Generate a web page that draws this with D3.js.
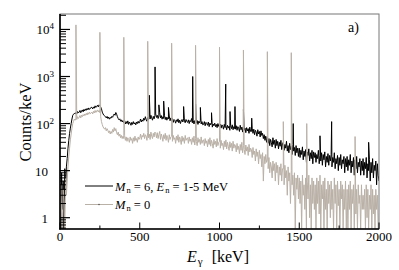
<!DOCTYPE html>
<html>
<head>
<meta charset="utf-8">
<script src="https://cdn.jsdelivr.net/npm/d3@7"></script>
<style>
body { margin: 0; background: #fff; }
</style>
</head>
<body>
<div id="chart"></div>
<script>
// spectra: counts/keV sampled every 5 keV from 0 to 2000 keV
var energyStep = 5;

var countsMn6 = [
	3, 0.3, 9, 1.5, 6, 0.3, 11, 4, 12, 18, 30, 44, 62, 80, 100, 125, 150, 158, 165, 160,
	172, 160, 180, 168, 176, 190, 170, 185, 195, 178, 200, 186, 205, 192, 210, 196, 215, 200, 208, 222,
	220, 205, 226, 212, 238, 220, 232, 245, 226, 250, 240, 225, 205, 175, 160, 150, 146, 140, 132, 142,
	128, 138, 124, 134, 130, 142, 136, 150, 160, 150, 172, 158, 140, 128, 120, 126, 112, 120, 108, 116,
	104, 115, 98, 110, 100, 114, 96, 108, 102, 92, 106, 96, 110, 98, 104, 94, 108, 100, 112, 102,
	110, 125, 108, 120, 112, 130, 118, 140, 122, 112, 135, 120, 145, 125, 150, 132, 118, 142, 126, 148,
	160, 135, 150, 128, 145, 170, 132, 148, 124, 140, 128, 150, 122, 138, 118, 134, 126, 145, 115, 132,
	112, 128, 106, 122, 116, 102, 120, 110, 126, 104, 118, 100, 114, 122, 108, 126, 112, 104, 122, 110,
	106, 120, 100, 116, 110, 128, 104, 118, 98, 114, 122, 102, 116, 96, 112, 104, 118, 98, 110, 94,
	96, 110, 90, 106, 100, 92, 108, 86, 102, 94, 104, 84, 98, 90, 102, 86, 96, 82, 100, 88,
	84, 98, 80, 94, 88, 76, 96, 82, 90, 74, 92, 80, 88, 72, 90, 78, 94, 74, 86, 78,
	76, 90, 72, 86, 80, 68, 92, 74, 84, 66, 88, 72, 80, 64, 82, 70, 78, 62, 84, 68,
	68, 80, 62, 76, 58, 72, 66, 54, 74, 60, 68, 52, 70, 56, 62, 48, 58, 44, 54, 40,
	52, 38, 48, 34, 46, 40, 32, 50, 36, 44, 30, 46, 34, 42, 29, 40, 33, 44, 28, 38,
	40, 27, 36, 30, 42, 26, 34, 24, 38, 28, 33, 22, 36, 26, 31, 21, 34, 24, 30, 20,
	30, 19, 27, 22, 32, 17, 26, 20, 28, 15, 25, 21, 29, 16, 24, 18, 27, 14, 25, 19,
	24, 15, 22, 18, 27, 14, 21, 16, 24, 13, 22, 17, 25, 12, 20, 15, 23, 13, 21, 16,
	22, 12, 19, 15, 24, 11, 18, 14, 21, 10, 19, 13, 22, 11, 17, 14, 20, 9, 18, 12,
	20, 10, 17, 13, 22, 9, 16, 12, 19, 8, 17, 11, 20, 9, 15, 12, 18, 8, 16, 10,
	18, 8, 15, 11, 19, 7, 14, 10, 17, 6, 15, 9, 18, 7, 13, 10, 16, 5, 14, 8,
	6
];

var countsMn0 = [
	0.3, 5, 1.2, 0.3, 4, 2, 0.3, 7, 3, 6, 12, 20, 30, 45, 60, 80, 100, 112, 125, 118,
	130, 122, 140, 128, 135, 148, 132, 150, 140, 155, 145, 160, 150, 165, 152, 170, 158, 175, 162, 168,
	175, 160, 182, 168, 190, 172, 185, 195, 176, 190, 170, 140, 110, 95, 85, 80, 76, 82, 70, 78,
	72, 64, 70, 60, 68, 62, 75, 66, 82, 70, 78, 64, 58, 66, 54, 60, 50, 56, 48, 54,
	48, 56, 44, 52, 42, 50, 46, 40, 52, 44, 48, 38, 50, 42, 54, 44, 48, 40, 52, 46,
	50, 60, 46, 56, 52, 62, 48, 58, 54, 44, 64, 50, 60, 46, 66, 54, 48, 62, 52, 66,
	62, 50, 64, 48, 58, 68, 46, 60, 52, 42, 58, 48, 62, 44, 56, 50, 40, 58, 46, 52,
	54, 42, 56, 46, 50, 38, 54, 44, 58, 40, 52, 46, 36, 54, 42, 50, 38, 56, 44, 48,
	50, 38, 52, 42, 47, 36, 50, 40, 54, 35, 48, 42, 34, 50, 40, 46, 36, 52, 38, 44,
	45, 34, 48, 38, 43, 32, 46, 36, 50, 33, 44, 38, 30, 46, 36, 42, 32, 48, 34, 40,
	42, 30, 44, 34, 38, 28, 42, 32, 45, 29, 40, 33, 27, 41, 31, 38, 26, 42, 30, 36,
	34, 25, 38, 28, 33, 23, 36, 27, 40, 24, 34, 28, 22, 35, 26, 32, 21, 36, 25, 30,
	28, 19, 31, 22, 26, 16, 29, 20, 25, 14, 27, 18, 22, 12, 24, 6, 20, 14, 22, 15,
	17, 11, 19, 9, 15, 12, 7, 16, 10, 14, 6, 15, 9, 13, 5, 12, 8, 14, 6, 11,
	11, 5, 13, 7, 10, 3, 12, 6, 9, 2, 10, 5, 8, 3, 9, 0.3, 7, 4, 8, 2.5,
	7, 2, 6, 0.3, 8, 3, 5, 1.5, 7, 0.3, 6, 2.5, 8, 1, 5, 0.3, 7, 2, 6, 1.5,
	5, 0.3, 7, 2, 6, 1.2, 8, 0.3, 5, 2.5, 6, 0.3, 7, 1.5, 4, 0.3, 6, 2, 5, 1,
	6, 1.5, 4, 0.3, 7, 2, 5, 0.3, 6, 1.8, 4, 0.3, 6, 2.5, 5, 0.3, 4, 1.5, 6, 0.3,
	4, 0.3, 5, 1.5, 6, 0.3, 4, 2, 5, 0.3, 6, 1.2, 4, 0.3, 5, 2, 3, 0.3, 5, 1.5,
	3, 1.5, 4, 0.3, 5, 1, 4, 0.3, 3, 1.5, 5, 0.3, 4, 1.2, 3, 0.3, 4, 1.5, 3, 0.3,
	0.3
];

// narrow lines [energy keV, counts/keV]
var peaksMn6 = [
	[560, 400], [596, 1600], [620, 250], [650, 300], [680, 220],
	[775, 230], [832, 1000], [850, 260], [880, 220], [950, 170],
	[1039, 690], [1066, 180], [1097, 230], [1150, 200], [1202, 130],
	[1462, 100], [1630, 55], [1703, 110], [1935, 40]
];
var peaksMn0 = [
	[100, 12500], [250, 8700], [400, 6800], [550, 5600], [700, 5100],
	[850, 4600], [1000, 4200], [1150, 3660], [1300, 3370], [1400, 110],
	[1450, 3210], [1547, 100], [1850, 53]
];

var seriesNames = ["M_n = 6, E_n = 1-5 MeV", "M_n = 0"];
var xTicks = [0, 500, 1000, 1500, 2000];
var yTicks = [1, 10, 100, 1000, 10000];

var width = 399, height = 270;
var x = d3.scaleLinear().domain([0, 2000]).range([60, 379]);
var y = d3.scaleLog().domain([0.575, 21300]).range([229, 14]).clamp(true);

function buildSeries(counts, peaks) {
	var pts = counts.map(function(c, i) { return { e: i * energyStep, c: c, k: 0 }; });
	peaks.forEach(function(p) { pts.push({ e: p[0], c: p[1], k: 1 }); });
	pts.sort(function(a, b) { return a.e - b.e || a.k - b.k; });
	return pts;
}

var svg = d3.select("#chart").append("svg")
	.attr("width", width)
	.attr("height", height)
	.attr("font-family", "'Liberation Serif', 'Times New Roman', Times, Tinos, 'DejaVu Serif', serif");

svg.append("defs").append("clipPath").attr("id", "plot")
	.append("rect").attr("x", 60).attr("y", 14).attr("width", 319).attr("height", 215);

var line = d3.line()
	.x(function(d) { return x(d.e); })
	.y(function(d) { return y(d.c); });

var colors = ["#000000", "#b9b0a6"];

var plot = svg.append("g").attr("clip-path", "url(#plot)");
plot.append("path")
	.datum(buildSeries(countsMn6, peaksMn6))
	.attr("d", line)
	.attr("fill", "none")
	.attr("stroke", colors[0])
	.attr("stroke-width", 1);
plot.append("path")
	.datum(buildSeries(countsMn0, peaksMn0))
	.attr("d", line)
	.attr("fill", "none")
	.attr("stroke", colors[1])
	.attr("stroke-width", 1);

// frame
svg.append("rect")
	.attr("x", 60).attr("y", 14).attr("width", 319).attr("height", 215)
	.attr("fill", "none").attr("stroke", "#777").attr("stroke-width", 1);
svg.append("line").attr("x1", 60).attr("x2", 60).attr("y1", 14).attr("y2", 229.5)
	.attr("stroke", "#000").attr("stroke-width", 1.6);
svg.append("line").attr("x1", 59.2).attr("x2", 379).attr("y1", 229).attr("y2", 229)
	.attr("stroke", "#000").attr("stroke-width", 1.6);

// x axis ticks (inside)
var xMinor = d3.range(250, 2000, 500);
svg.selectAll(".xmaj").data(xTicks).enter().append("line")
	.attr("x1", function(d) { return x(d); }).attr("x2", function(d) { return x(d); })
	.attr("y1", 229).attr("y2", 222.5).attr("stroke", "#000");
svg.selectAll(".xmin").data(xMinor).enter().append("line")
	.attr("x1", function(d) { return x(d); }).attr("x2", function(d) { return x(d); })
	.attr("y1", 229).attr("y2", 225.5).attr("stroke", "#000");
svg.selectAll(".xlab").data(xTicks).enter().append("text")
	.attr("x", function(d) { return x(d); })
	.attr("y", 241)
	.attr("text-anchor", "middle")
	.attr("font-size", "13px")
	.text(function(d) { return d; });

// y axis ticks (inside), minor ticks 2..9 per decade
var yMinor = [];
[0.1, 1, 10, 100, 1000, 10000].forEach(function(dec) {
	for (var m = 2; m <= 9; m++) {
		var v = m * dec;
		if (v >= 0.575 && v <= 21300) yMinor.push(v);
	}
});
svg.selectAll(".ymin").data(yMinor).enter().append("line")
	.attr("x1", 60).attr("x2", 66)
	.attr("y1", function(d) { return y(d); }).attr("y2", function(d) { return y(d); })
	.attr("stroke", "#000");
svg.selectAll(".ymaj").data(yTicks).enter().append("line")
	.attr("x1", 60).attr("x2", 70)
	.attr("y1", function(d) { return y(d); }).attr("y2", function(d) { return y(d); })
	.attr("stroke", "#000").attr("stroke-width", 1.2);

var ylab = svg.selectAll(".ylab").data(yTicks).enter().append("text")
	.attr("x", function(d) { return d < 100 ? 48 : 54; })
	.attr("y", function(d) { return y(d) + 5; })
	.attr("text-anchor", "end")
	.attr("font-size", "13px");
ylab.append("tspan").text(function(d) { return d < 100 ? d : "10"; });
ylab.filter(function(d) { return d >= 100; }).append("tspan")
	.attr("font-size", "9px")
	.attr("dy", -5)
	.text(function(d) { return Math.round(Math.log10(d)); });

// axis titles
var xt = svg.append("text")
	.attr("x", 187).attr("y", 262)
	.attr("font-size", "16px");
xt.append("tspan").attr("font-style", "italic").text("E");
xt.append("tspan").attr("font-size", "11px").attr("dx", 1).attr("dy", 3).text("γ");
xt.append("tspan").attr("dx", 9).attr("dy", -3).text("[keV]");

svg.append("text")
	.attr("transform", "translate(31,122) rotate(-90)")
	.attr("text-anchor", "middle")
	.attr("font-size", "16.5px")
	.text("Counts/keV");

svg.append("text")
	.attr("x", 348).attr("y", 32)
	.attr("font-size", "14px")
	.text("a)");

// legend
var legY = [186, 204.5];
seriesNames.forEach(function(name, i) {
	svg.append("line")
		.attr("x1", 85).attr("x2", 113)
		.attr("y1", legY[i]).attr("y2", legY[i])
		.attr("stroke", colors[i]).attr("stroke-width", 1);
	if (i == 1) {
		svg.append("circle").attr("cx", 99).attr("cy", legY[i]).attr("r", 0.8).attr("fill", "#555");
	}
	var t = svg.append("text")
		.attr("x", 115).attr("y", legY[i] + 4.5)
		.attr("font-size", "12.5px");
	var parts = name.split(", ");
	parts.forEach(function(part, j) {
		var sym = part.split("_")[0];
		var rest = part.split("_")[1];
		var sub = rest.split(" ")[0];
		var tail = rest.slice(sub.length);
		t.append("tspan").attr("font-style", "italic").text(sym);
		t.append("tspan").attr("font-size", "8.5px").attr("dx", 1).attr("dy", 2).text(sub);
		t.append("tspan").attr("dy", -2).text(tail + (j < parts.length - 1 ? ", " : ""));
	});
});
</script>
</body>
</html>
